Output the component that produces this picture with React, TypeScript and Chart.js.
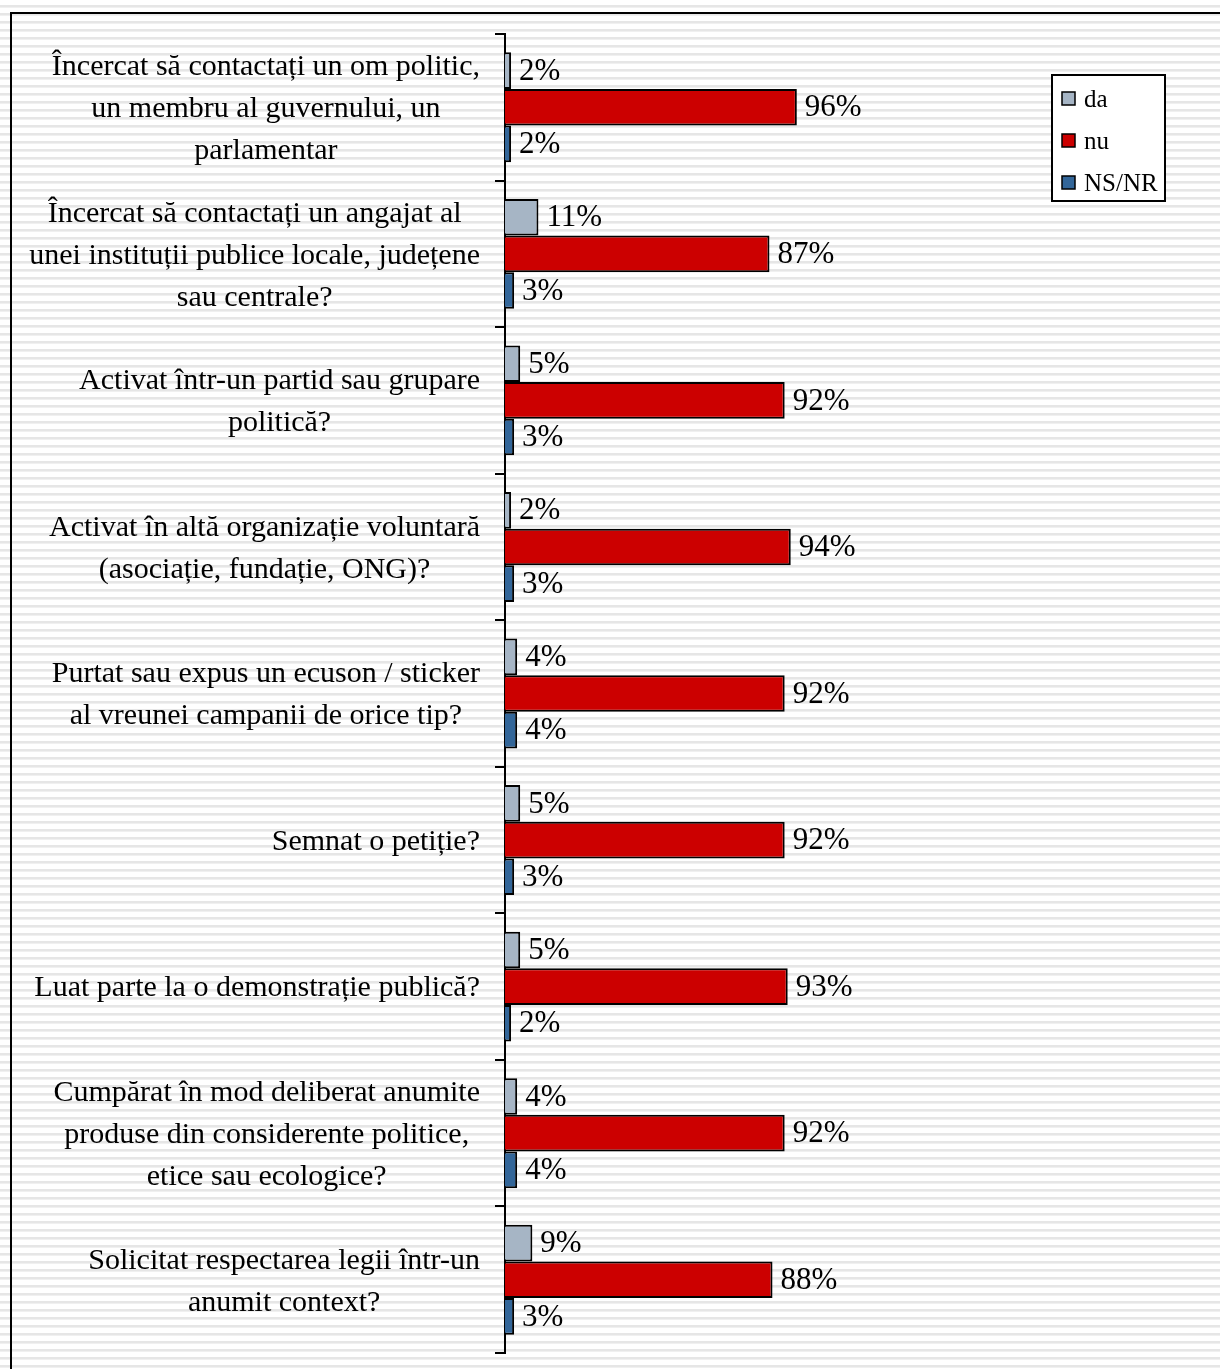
import React, { useEffect, useRef } from "react";
import { Chart, registerables } from "chart.js";

Chart.register(...registerables);

const categories: string[][] = [
  ["Încercat să contactați un om politic,", "un membru al guvernului, un", "parlamentar"],
  ["Încercat să contactați un angajat al", "unei instituții publice locale, județene", "sau centrale?"],
  ["Activat într-un partid sau grupare", "politică?"],
  ["Activat în altă organizație voluntară", "(asociație, fundație, ONG)?"],
  ["Purtat sau expus un ecuson / sticker", "al vreunei campanii de orice tip?"],
  ["Semnat o petiție?"],
  ["Luat parte la o demonstrație publică?"],
  ["Cumpărat în mod deliberat anumite", "produse din considerente politice,", "etice sau ecologice?"],
  ["Solicitat respectarea legii într-un", "anumit context?"],
];

const daValues = [2, 11, 5, 2, 4, 5, 5, 4, 9];
const nuValues = [96, 87, 92, 94, 92, 92, 93, 92, 88];
const nsValues = [2, 3, 3, 3, 4, 3, 2, 4, 3];

const seriesNames = ["da", "nu", "NS/NR"];
const seriesColors = ["#A6B5C5", "#CC0000", "#336699"];

const FONT = '"Liberation Serif", "Times New Roman", serif';

const drawPlugin = {
  id: "customDraw",
  afterDraw(chart: any) {
    const ctx = chart.ctx as CanvasRenderingContext2D;
    const yScale = chart.scales.y;
    const area = chart.chartArea;
    ctx.save();
    ctx.fillStyle = "#000";
    ctx.textBaseline = "middle";

    // category labels: block right-aligned, lines centered within block
    ctx.font = `30px ${FONT}`;
    const right = area.left - 25;
    const lh = 42;
    categories.forEach((lines, i) => {
      const cy = yScale.getPixelForValue(i) + 2;
      const w = Math.max(...lines.map((l) => ctx.measureText(l).width));
      const cx = right - w / 2;
      ctx.textAlign = "center";
      lines.forEach((l, j) => {
        ctx.fillText(l, cx, cy + (j - (lines.length - 1) / 2) * lh);
      });
    });

    // value labels
    ctx.font = `31px ${FONT}`;
    ctx.textAlign = "left";
    chart.data.datasets.forEach((ds: any, di: number) => {
      const meta = chart.getDatasetMeta(di);
      meta.data.forEach((el: any, i: number) => {
        ctx.fillText(`${ds.data[i]}%`, el.x + 8, el.y + 1);
      });
    });

    // legend
    const lx = 1052, ly = 75, lw = 113, lhBox = 126;
    ctx.fillStyle = "#fff";
    ctx.fillRect(lx, ly, lw, lhBox);
    ctx.strokeStyle = "#000";
    ctx.lineWidth = 2;
    ctx.strokeRect(lx, ly, lw, lhBox);
    ctx.font = `25px ${FONT}`;
    chart.data.datasets.forEach((ds: any, di: number) => {
      const cy = ly + 24 + di * 42;
      ctx.fillStyle = ds.backgroundColor;
      ctx.fillRect(lx + 10, cy - 7, 13, 13);
      ctx.lineWidth = 1.5;
      ctx.strokeStyle = "#000";
      ctx.strokeRect(lx + 10, cy - 7, 13, 13);
      ctx.fillStyle = "#000";
      ctx.textAlign = "left";
      ctx.fillText(ds.label, lx + 32, cy + 1);
    });
    ctx.restore();
  },
};

export default function App() {
  const ref = useRef<HTMLCanvasElement | null>(null);

  useEffect(() => {
    if (!ref.current) return;
    const chart = new Chart(ref.current, {
      type: "bar",
      data: {
        labels: categories.map((c) => c.join(" ")),
        datasets: [daValues, nuValues, nsValues].map((vals, i) => ({
          label: seriesNames[i],
          data: vals,
          backgroundColor: seriesColors[i],
          borderColor: "#000",
          borderWidth: 2,
          categoryPercentage: 0.75,
          barPercentage: 1.0,
        })),
      },
      options: {
        indexAxis: "y",
        responsive: false,
        animation: false,
        layout: { padding: { top: 34, bottom: 16, right: 411, left: 0 } },
        plugins: { legend: { display: false }, tooltip: { enabled: false } },
        scales: {
          x: { display: false, min: 0, max: 100 },
          y: {
            afterFit: (scale: any) => {
              scale.width = 505;
            },
            ticks: { display: false },
            grid: {
              display: true,
              offset: true,
              drawOnChartArea: false,
              drawTicks: true,
              tickLength: 10,
              color: "#000",
              lineWidth: 2,
            },
            border: { display: true, color: "#000", width: 2 },
          },
        },
      },
      plugins: [drawPlugin],
    });
    return () => chart.destroy();
  }, []);

  return (
    <div
      style={{
        position: "fixed",
        left: 0,
        top: 0,
        width: 1220,
        height: 1369,
        overflow: "hidden",
        background:
          "repeating-linear-gradient(to bottom, #ffffff 0px, #ffffff 5px, #e6e6e6 5px, #e6e6e6 7px, #f0f0f0 7px, #f0f0f0 8px)",
      }}
    >
      <div
        style={{
          position: "absolute",
          left: 10,
          top: 12,
          width: 1240,
          height: 1400,
          border: "2px solid #000",
        }}
      />
      <canvas
        ref={ref}
        width={1220}
        height={1369}
        style={{ position: "absolute", left: 0, top: 0, width: 1220, height: 1369 }}
      />
    </div>
  );
}
